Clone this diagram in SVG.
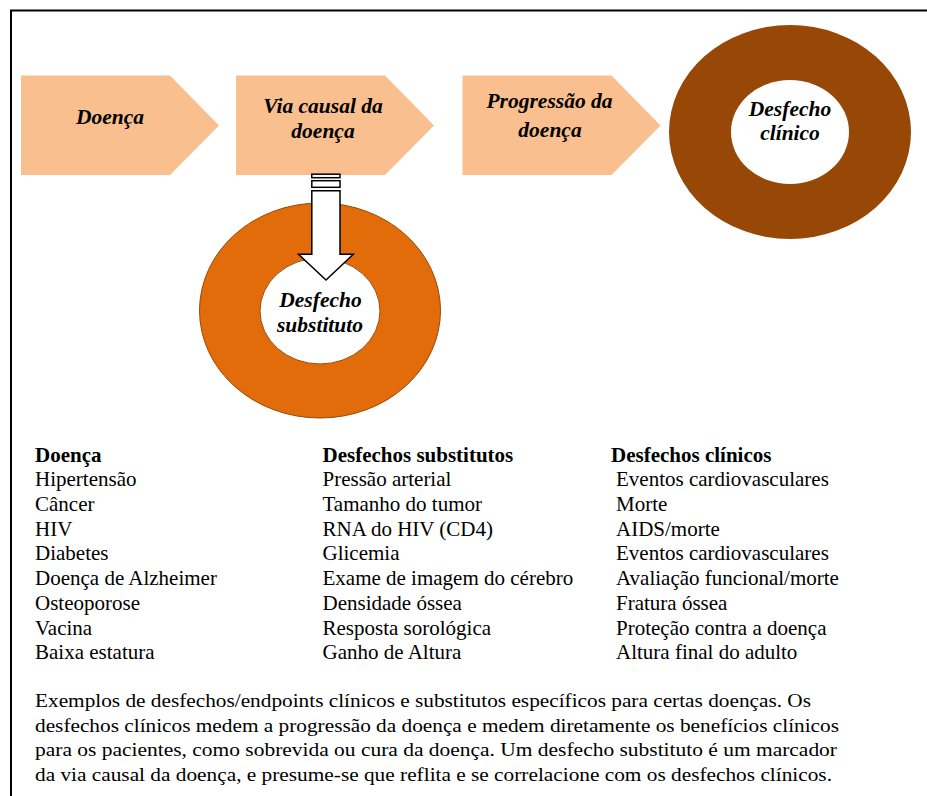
<svg xmlns="http://www.w3.org/2000/svg" width="927" height="796" viewBox="0 0 927 796">
<style>
.step{fill:#F9BF8F;}
.lbl{font-family:'Liberation Serif','DejaVu Serif','Times New Roman',serif;font-weight:bold;font-style:italic;font-size:21.5px;fill:#000;text-anchor:middle;}
.tb{font-family:'Liberation Serif','DejaVu Serif','Times New Roman',serif;font-size:21px;fill:#000;}
.th{font-weight:bold;}
.para{font-family:'Liberation Serif','DejaVu Serif','Times New Roman',serif;font-size:19px;fill:#000;}
.blk{fill:#fff;stroke:#000;stroke-width:1.5;}
</style>
<rect x="11" y="10.5" width="930" height="800" fill="#fff" stroke="#000" stroke-width="2"/>

<g id="node-doenca">
<polygon class="step" points="21,75.5 170,75.5 219,125.5 170,175 21,175"/>
<text class="lbl" x="110" y="124">Doença</text>
</g>
<g id="node-via-causal">
<polygon class="step" points="236,75.5 385,75.5 434,125.5 385,175 236,175"/>
<text class="lbl" x="323" y="113">Via causal da</text>
<text class="lbl" x="323" y="138">doença</text>
</g>
<g id="node-progressao">
<polygon class="step" points="462.5,75.5 611.5,75.5 660.5,125.5 611.5,175 462.5,175"/>
<text class="lbl" x="549.5" y="108">Progressão da</text>
<text class="lbl" x="550" y="136.5">doença</text>
</g>
<g id="node-desfecho-clinico">
<ellipse cx="790" cy="132" rx="121" ry="107" fill="#974706"/>
<ellipse cx="790" cy="132" rx="59" ry="52" fill="#fff"/>
<text class="lbl" x="790" y="116">Desfecho</text>
<text class="lbl" x="790" y="140">clínico</text>
</g>
<g id="node-desfecho-substituto">
<ellipse cx="320" cy="310.5" rx="120.5" ry="107.5" fill="#E36C0A" stroke="#984806" stroke-width="1"/>
<ellipse cx="320" cy="311" rx="60" ry="53" fill="#fff" stroke="#984806" stroke-width="1"/>
<text class="lbl" x="320.5" y="306.5">Desfecho</text>
<text class="lbl" x="320" y="331.5">substituto</text>
</g>

<g id="connectors">
<rect class="blk" x="311.8" y="174.2" width="28.2" height="3.5"/>
<rect class="blk" x="311.8" y="180.7" width="28.2" height="6.6"/>
<polygon class="blk" points="311.8,190.7 340,190.7 340,254.3 353.3,254.3 326,280 298.5,254.3 311.8,254.3"/>
</g>

<g id="table">
<g class="tb">
<text class="th" x="35" y="461.6">Doença</text>
<text x="35" y="486.3">Hipertensão</text>
<text x="35" y="511">Câncer</text>
<text x="35" y="535.7">HIV</text>
<text x="35" y="560.4">Diabetes</text>
<text x="35" y="585.1">Doença de Alzheimer</text>
<text x="35" y="609.8">Osteoporose</text>
<text x="35" y="634.5">Vacina</text>
<text x="35" y="659.2">Baixa estatura</text>
</g>
<g class="tb">
<text class="th" x="322.5" y="461.6">Desfechos substitutos</text>
<text x="322.5" y="486.3">Pressão arterial</text>
<text x="322.5" y="511">Tamanho do tumor</text>
<text x="322.5" y="535.7">RNA do HIV (CD4)</text>
<text x="322.5" y="560.4">Glicemia</text>
<text x="322.5" y="585.1">Exame de imagem do cérebro</text>
<text x="322.5" y="609.8">Densidade óssea</text>
<text x="322.5" y="634.5">Resposta sorológica</text>
<text x="322.5" y="659.2">Ganho de Altura</text>
</g>
<g class="tb">
<text class="th" x="611" y="461.6">Desfechos clínicos</text>
<text x="616" y="486.3">Eventos cardiovasculares</text>
<text x="616" y="511">Morte</text>
<text x="616" y="535.7">AIDS/morte</text>
<text x="616" y="560.4">Eventos cardiovasculares</text>
<text x="616" y="585.1">Avaliação funcional/morte</text>
<text x="616" y="609.8">Fratura óssea</text>
<text x="616" y="634.5">Proteção contra a doença</text>
<text x="616" y="659.2">Altura final do adulto</text>
</g>
</g>

<g id="caption" class="para">
<text x="35" y="707" textLength="776" lengthAdjust="spacingAndGlyphs">Exemplos de desfechos/endpoints clínicos e substitutos específicos para certas doenças. Os</text>
<text x="35" y="731.7" textLength="804" lengthAdjust="spacingAndGlyphs">desfechos clínicos medem a progressão da doença e medem diretamente os benefícios clínicos</text>
<text x="35" y="756.4" textLength="802" lengthAdjust="spacingAndGlyphs">para os pacientes, como sobrevida ou cura da doença. Um desfecho substituto é um marcador</text>
<text x="35" y="781.1" textLength="797" lengthAdjust="spacingAndGlyphs">da via causal da doença, e presume-se que reflita e se correlacione com os desfechos clínicos.</text>
</g>
</svg>
